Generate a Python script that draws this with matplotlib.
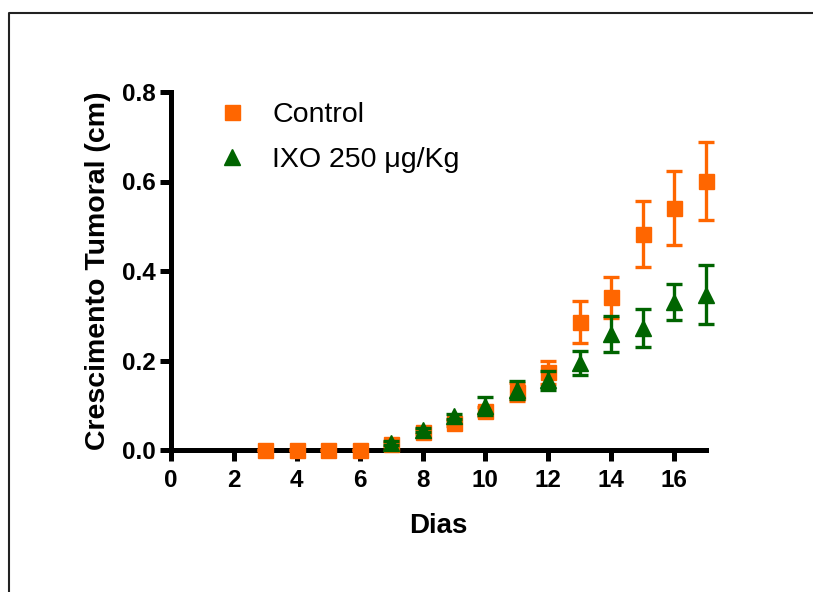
import matplotlib
matplotlib.use("Agg")
import matplotlib.pyplot as plt
from matplotlib.lines import Line2D

plt.rcParams['font.family'] = ['Liberation Sans', 'DejaVu Sans']

# ---- data ----
days_control = [3, 4, 5, 6, 7, 8, 9, 10, 11, 12, 13, 14, 15, 16, 17]
control = [0.0, 0.0, 0.0, 0.0, 0.013, 0.041, 0.060, 0.087, 0.130, 0.174, 0.286, 0.341, 0.483, 0.541, 0.601]
control_sem = [0.0, 0.0, 0.0, 0.0, 0.004, 0.005, 0.006, 0.010, 0.020, 0.026, 0.046, 0.045, 0.073, 0.082, 0.088]

days_ixo = [7, 8, 9, 10, 11, 12, 13, 14, 15, 16, 17]
ixo = [0.015, 0.045, 0.075, 0.098, 0.134, 0.156, 0.195, 0.259, 0.273, 0.330, 0.347]
ixo_sem = [0.004, 0.005, 0.006, 0.020, 0.020, 0.021, 0.027, 0.041, 0.042, 0.040, 0.066]

x_ticks = [0, 2, 4, 6, 8, 10, 12, 14, 16]
y_ticks = [0.0, 0.2, 0.4, 0.6, 0.8]
labels = ['Control', 'IXO 250 \u03bcg/Kg']

orange = '#FF6600'
green = '#006400'

W, H = 813, 592
fig = plt.figure(figsize=(W / 100, H / 100), dpi=100)
ax = fig.add_axes([171 / W, 1 - 450 / H, (705.5 - 171) / W, (450 - 92) / H])

for days, vals, sem, mk, ms, col, z in [
        (days_control, control, control_sem, 's', 10.8, orange, 3),
        (days_ixo, ixo, ixo_sem, '^', 11.5, green, 4)]:
    cont = ax.errorbar(days, vals, yerr=sem, fmt=mk, color=col,
                       markersize=ms, elinewidth=2.4, capsize=6, capthick=2.4, zorder=z)
    for art in [cont.lines[0]] + list(cont.lines[1]) + list(cont.lines[2]):
        art.set_clip_on(False)

ax.set_xlim(0, 17)
ax.set_ylim(0, 0.8)
ax.set_xticks(x_ticks)
ax.set_yticks(y_ticks)
ax.set_yticklabels([f'{v:.1f}' for v in y_ticks])
for s in ['top', 'right']:
    ax.spines[s].set_visible(False)
for s in ['left', 'bottom']:
    ax.spines[s].set_linewidth(3.6)
    ax.spines[s].set_capstyle('projecting')
    ax.spines[s].set_zorder(2)
ax.tick_params(axis='both', width=3.6, length=8, labelsize=17.5, direction='out')
ax.tick_params(axis='x', pad=6)
ax.tick_params(axis='y', pad=3)
for lab in ax.get_xticklabels() + ax.get_yticklabels():
    lab.set_fontweight('bold')
ax.set_xlabel('Dias', fontsize=20, fontweight='bold', labelpad=15)
ax.set_ylabel('Crescimento Tumoral (cm)', fontsize=20.5, fontweight='bold', labelpad=8)

handles = [Line2D([], [], linestyle='none', marker='s', color=orange, markersize=10.8),
           Line2D([], [], linestyle='none', marker='^', color=green, markersize=11.5)]
leg = ax.legend(handles, labels, loc='upper left', frameon=False,
                bbox_to_anchor=(218 / W, 1 - 102 / H), bbox_transform=fig.transFigure,
                fontsize=20.5, handlelength=1.0, handletextpad=0.9, labelspacing=0.66,
                borderpad=0, borderaxespad=0)

# outer frame (top and left edges visible)
fig.add_artist(Line2D([9 / W, 9 / W, 1.0], [0.0, 1 - 13 / H, 1 - 13 / H],
                      transform=fig.transFigure, color='#222222', linewidth=1.5))

fig.savefig('out.png', dpi=100)
